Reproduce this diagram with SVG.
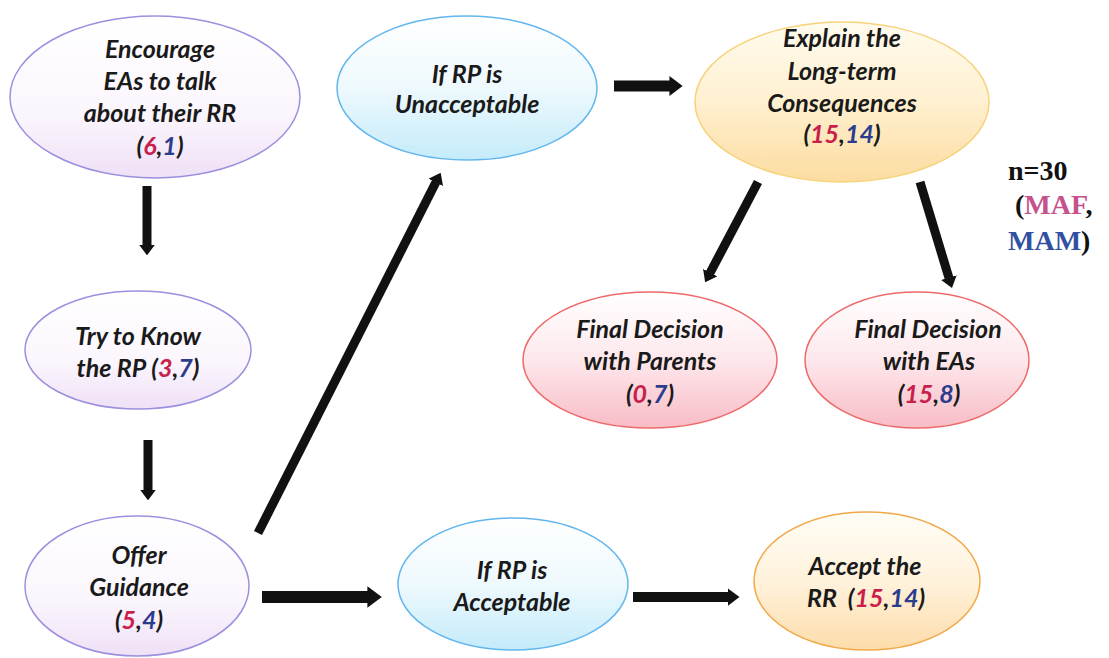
<svg xmlns="http://www.w3.org/2000/svg" width="1109" height="658" viewBox="0 0 1109 658">
<defs>
<linearGradient id="gPurple" x1="0" y1="0" x2="0" y2="1">
<stop offset="0" stop-color="#ffffff"/><stop offset="0.6" stop-color="#fbf6fd"/><stop offset="1" stop-color="#efe0f6"/>
</linearGradient>
<linearGradient id="gBlue" x1="0" y1="0" x2="0" y2="1">
<stop offset="0" stop-color="#ffffff"/><stop offset="0.5" stop-color="#eef9fd"/><stop offset="1" stop-color="#c4ebfa"/>
</linearGradient>
<linearGradient id="gYellow" x1="0" y1="0" x2="0" y2="1">
<stop offset="0" stop-color="#fffbee"/><stop offset="0.5" stop-color="#fff0d0"/><stop offset="1" stop-color="#fcdca0"/>
</linearGradient>
<linearGradient id="gRed" x1="0" y1="0" x2="0" y2="1">
<stop offset="0" stop-color="#ffffff"/><stop offset="0.5" stop-color="#fde8ec"/><stop offset="1" stop-color="#f8bcc6"/>
</linearGradient>
<linearGradient id="gOrange" x1="0" y1="0" x2="0" y2="1">
<stop offset="0" stop-color="#fffdf6"/><stop offset="0.5" stop-color="#fff2dc"/><stop offset="1" stop-color="#fddcaa"/>
</linearGradient>
<marker id="ah" viewBox="0 0 12 18" markerWidth="1.2" markerHeight="1.8" refX="0.5" refY="9" orient="auto" markerUnits="strokeWidth">
<path d="M0,0 L12,9 L0,18 Z" fill="#111"/>
</marker>
<style>
.t{font-family:Lato,"Open Sans","Liberation Sans",sans-serif;font-weight:bold;font-style:italic;font-size:25px;fill:#1a1a1a;text-anchor:middle}
.r{fill:#c8204a}
.b{fill:#2c3c8c}
.pu{fill:url(#gPurple);stroke:#9b90df;stroke-width:1.5}
.bl{fill:url(#gBlue);stroke:#62b6ee;stroke-width:1.5}
.ye{fill:url(#gYellow);stroke:#f6d37a;stroke-width:1.5}
.re{fill:url(#gRed);stroke:#ee6a6a;stroke-width:1.5}
.or{fill:url(#gOrange);stroke:#f2a848;stroke-width:1.5}
.c line{stroke:#111;marker-end:url(#ah)}
.n{font-family:"Liberation Serif","Times New Roman",serif;font-weight:bold;font-size:28px}
</style>
</defs>
<rect width="1109" height="658" fill="#ffffff"/>

<g id="encourage">
<ellipse class="pu" cx="155" cy="97" rx="145" ry="81"/>
<text class="t" x="160" y="58">Encourage</text>
<text class="t" x="160" y="90">EAs to talk</text>
<text class="t" x="160" y="122">about their RR</text>
<text class="t" x="160" y="155">(<tspan class="r">6</tspan>,<tspan class="b">1</tspan>)</text>
</g>

<g id="tryknow">
<ellipse class="pu" cx="138" cy="350" rx="113" ry="59"/>
<text class="t" x="138" y="345">Try to Know</text>
<text class="t" x="138" y="377">the RP (<tspan class="r">3</tspan>,<tspan class="b">7</tspan>)</text>
</g>

<g id="offer">
<ellipse class="pu" cx="137" cy="586" rx="112" ry="70"/>
<text class="t" x="139" y="564">Offer</text>
<text class="t" x="139" y="596">Guidance</text>
<text class="t" x="139" y="629">(<tspan class="r">5</tspan>,<tspan class="b">4</tspan>)</text>
</g>

<g id="unacceptable">
<ellipse class="bl" cx="467" cy="88" rx="130" ry="72"/>
<text class="t" x="467" y="83">If RP is</text>
<text class="t" x="467" y="113">Unacceptable</text>
</g>

<g id="explain">
<ellipse class="ye" cx="842" cy="102" rx="147" ry="80"/>
<text class="t" x="842" y="47">Explain the</text>
<text class="t" x="842" y="80">Long-term</text>
<text class="t" x="842" y="112">Consequences</text>
<text class="t" x="842" y="143">(<tspan class="r">15</tspan>,<tspan class="b">14</tspan>)</text>
</g>

<g id="parents">
<ellipse class="re" cx="650" cy="360" rx="127" ry="68"/>
<text class="t" x="650" y="338">Final Decision</text>
<text class="t" x="650" y="370">with Parents</text>
<text class="t" x="650" y="403">(<tspan class="r">0</tspan>,<tspan class="b">7</tspan>)</text>
</g>

<g id="eas">
<ellipse class="re" cx="917" cy="360" rx="112" ry="68"/>
<text class="t" x="928" y="338">Final Decision</text>
<text class="t" x="929" y="370">with EAs</text>
<text class="t" x="929" y="403">(<tspan class="r">15</tspan>,<tspan class="b">8</tspan>)</text>
</g>

<g id="acceptable">
<ellipse class="bl" cx="513" cy="584" rx="115" ry="66"/>
<text class="t" x="512" y="579">If RP is</text>
<text class="t" x="512" y="611">Acceptable</text>
</g>

<g id="accept">
<ellipse class="or" cx="867" cy="581" rx="113" ry="69"/>
<text class="t" x="865" y="575">Accept the</text>
<text class="t" x="866" y="607">RR&#160; (<tspan class="r">15</tspan>,<tspan class="b">14</tspan>)</text>
</g>

<g id="legend">
<text class="n" x="1008" y="180" fill="#111">n=30</text>
<text class="n" x="1015" y="214" fill="#111">(<tspan fill="#c4528c">MAF</tspan>,</text>
<text class="n" x="1008" y="250" fill="#3150a2">MAM<tspan fill="#111">)</tspan></text>
</g>

<g id="connectors" class="c">
<line x1="147" y1="186" x2="147" y2="245" stroke-width="9"/>
<line x1="148" y1="440" x2="148" y2="490" stroke-width="9"/>
<line x1="258" y1="533" x2="436" y2="182" stroke-width="9"/>
<line x1="614" y1="86" x2="670" y2="86" stroke-width="11"/>
<line x1="758" y1="182" x2="710" y2="273" stroke-width="9"/>
<line x1="920" y1="182" x2="949" y2="278" stroke-width="9"/>
<line x1="262" y1="597" x2="368" y2="597" stroke-width="12"/>
<line x1="633" y1="597" x2="728" y2="597" stroke-width="10"/>
</g>
</svg>
